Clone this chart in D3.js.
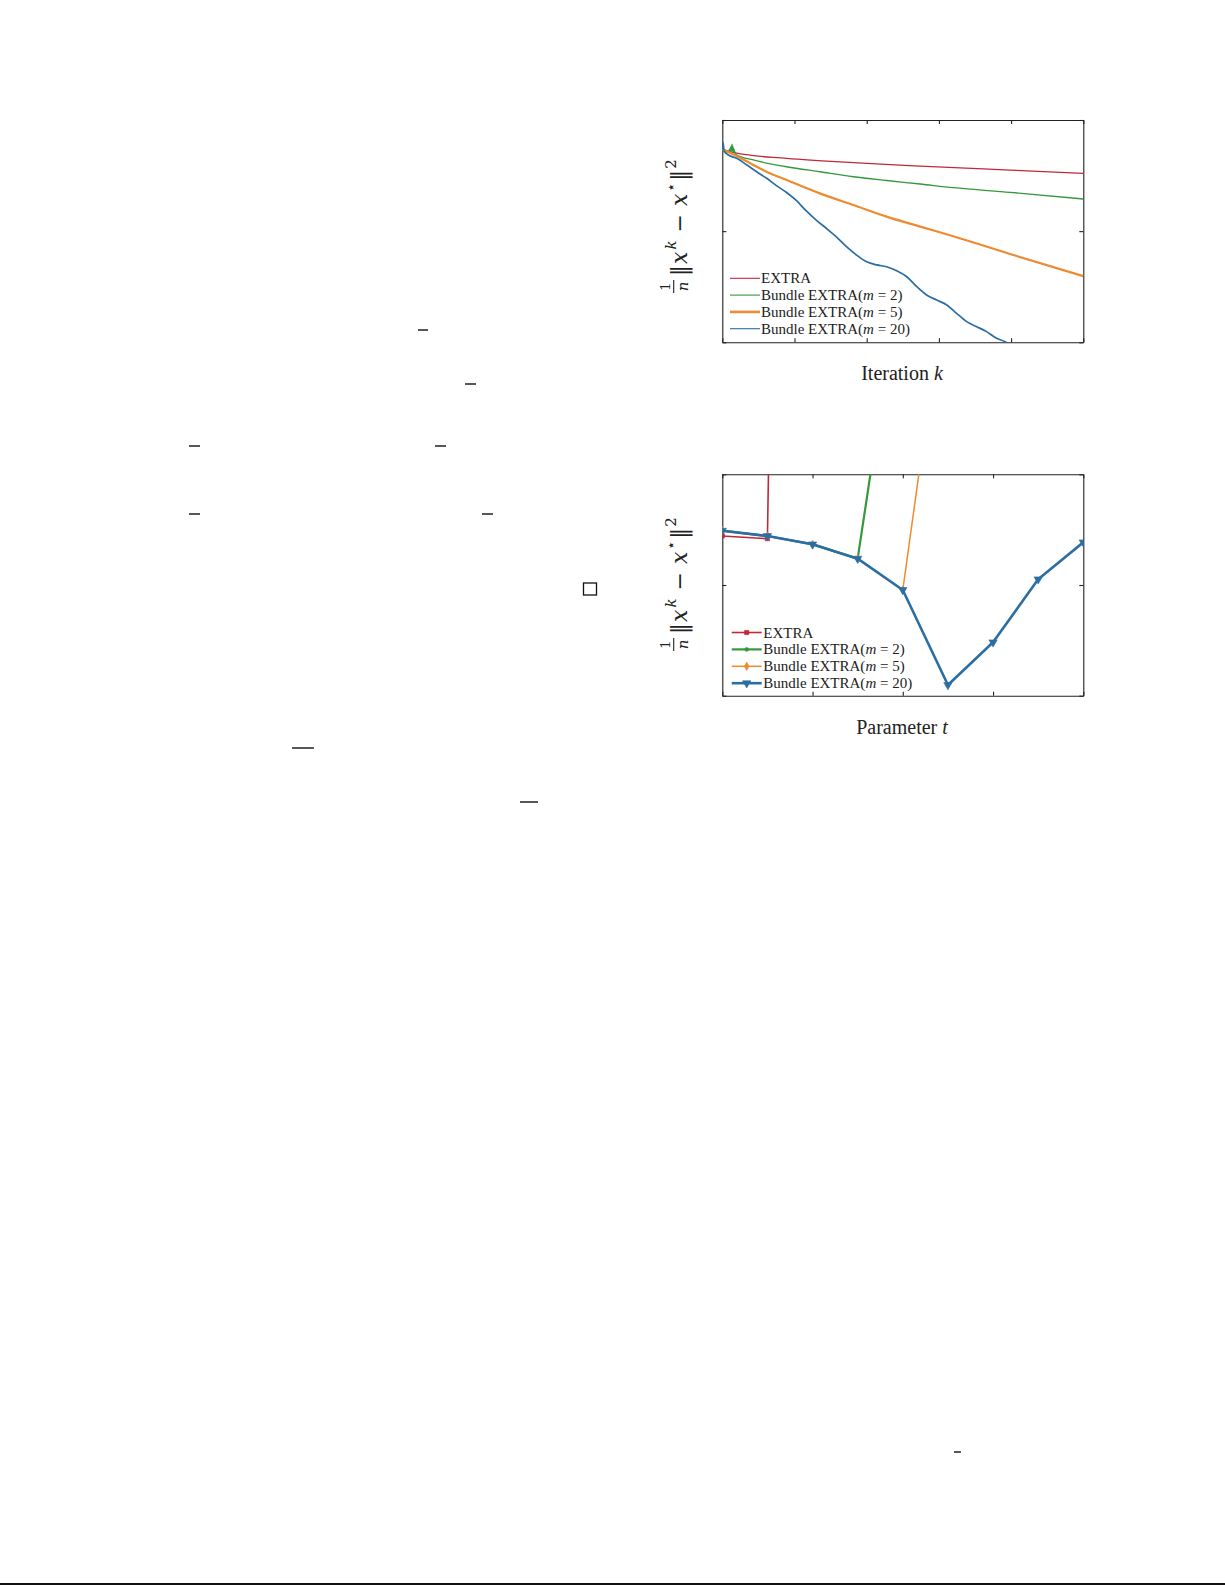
<!DOCTYPE html>
<html>
<head>
<meta charset="utf-8">
<script src="https://d3js.org/d3.v7.min.js"></script>
<style>
  body { margin: 0; background: #fff; }
  svg { display: block; }
</style>
</head>
<body>
<script>
// ---- data: convergence vs iteration (top panel) ----
const iterRed = [0, 40, 178, 363, 548, 797, 1000];
const errRed = [4.8e-2, 3.2e-2, 1.89e-2, 1.2e-2, 8.5e-3, 5.6e-3, 4.0e-3];

const iterGreen = [0, 12, 18, 19, 20, 21, 22, 23, 24, 25, 26, 27, 28, 29, 30, 31, 32, 33, 34, 35, 36, 40,
  86, 178, 270, 363, 455, 548, 640, 797, 1000];
const errGreen = [4.8e-2, 3.9e-2, 4.0e-2, 4.5e-2, 4.0e-2, 5.2e-2, 4.0e-2, 6.0e-2, 4.0e-2, 6.8e-2, 4.0e-2,
  8.1e-2, 4.0e-2, 6.6e-2, 3.8e-2, 5.5e-2, 3.6e-2, 4.6e-2, 3.4e-2, 3.8e-2, 3.1e-2, 2.67e-2,
  1.59e-2, 7.9e-3, 4.7e-3, 2.8e-3, 1.9e-3, 1.32e-3, 9.0e-4, 5.6e-4, 2.8e-4];

const iterOrange = [0, 40, 86, 132, 178, 270, 363, 455, 548, 640, 797, 1000];
const errOrange = [4.8e-2, 2.4e-2, 9.5e-3, 4.0e-3, 2.0e-3, 5.0e-4, 1.5e-4, 4.5e-5, 1.6e-5, 5.9e-6, 9.4e-7, 9.5e-8];

const iterBlue = [0, 2, 5, 17, 40, 68, 95, 123, 150, 178, 205, 232, 260, 288, 316, 344, 372, 400,
  428, 455, 483, 511, 539, 566, 594, 622, 649, 677, 705, 732, 760, 783, 800, 820];
const errBlue = [4.81e-2, 9.73e-2, 4.03e-2, 2.67e-2, 1.89e-2, 9.46e-3, 4.73e-3, 2.38e-3, 1.12e-3, 5.5e-4,
  2.4e-4, 8.32e-5, 3.16e-5, 1.35e-5, 5.5e-6, 2.0e-6, 8.32e-7, 4.17e-7, 3.02e-7, 2.51e-7, 1.66e-7,
  8.91e-8, 3.16e-8, 1.35e-8, 7.94e-9, 4.79e-9, 2.0e-9, 8.51e-10, 5.01e-10, 3.02e-10, 1.51e-10,
  1.07e-10, 7.24e-11, 3.98e-11];

// ---- data: error vs parameter t (bottom panel) ----
const tParam = [0.1, 0.2, 0.3, 0.4, 0.5, 0.6, 0.7, 0.8, 0.9];
const tRed = [0.0768, 0.0687, 1e50];
const tGreen = [0.0957, 0.0768, 0.0543, 0.0299, 7.5e3];
const tOrange = [0.0957, 0.0768, 0.0543, 0.0299, 0.00812, 6.2e3];
const tBlue = [0.0957, 0.0768, 0.0543, 0.0299, 0.00812, 0.000156, 0.000922, 0.01268, 0.0591];

const seriesNames = ["EXTRA", "Bundle EXTRA(m = 2)", "Bundle EXTRA(m = 5)", "Bundle EXTRA(m = 20)"];
const colors = ["#c0283a", "#36983c", "#ee8a30", "#2b6ea3"];

const serif = "'Liberation Serif', 'DejaVu Serif', serif";
const mathFont = "'DejaVu Serif', serif";
const W = 1225, H = 1585;

const svg = d3.select("body").append("svg")
  .attr("width", W).attr("height", H)
  .attr("font-family", serif);

function frame(box, x, y, xt, yt, id) {
  const ax = [
    [d3.axisBottom(x).tickValues(xt), `translate(0,${box.bottom})`],
    [d3.axisTop(x).tickValues(xt), `translate(0,${box.top})`],
    [d3.axisLeft(y).tickValues(yt), `translate(${box.left},0)`],
    [d3.axisRight(y).tickValues(yt), `translate(${box.right},0)`]
  ];
  ax.forEach(([a, tr]) => {
    const g = svg.append("g").attr("transform", tr)
      .call(a.tickSizeInner(-4).tickSizeOuter(0).tickFormat(() => ""));
    g.selectAll("path, line").attr("stroke", "#222").attr("stroke-width", 1.1);
  });
  svg.append("clipPath").attr("id", id).append("rect")
    .attr("x", box.left).attr("y", box.top)
    .attr("width", box.right - box.left).attr("height", box.bottom - box.top);
}

// rotated math label: 1/n ||x^k - x*||^2
function yLabel(bx, by) {
  const g = svg.append("g").attr("transform", `translate(${bx},${by}) rotate(-90)`)
    .attr("fill", "#222").attr("font-family", mathFont);
  g.append("text").attr("x", 6.5).attr("y", -17).attr("text-anchor", "middle").attr("font-size", 13).text("1");
  g.append("line").attr("x1", 0).attr("x2", 13).attr("y1", -13).attr("y2", -13)
    .attr("stroke", "#222").attr("stroke-width", 1.1);
  g.append("text").attr("x", 6.5).attr("y", 1).attr("text-anchor", "middle")
    .attr("font-size", 15).attr("font-style", "italic").text("n");
  const t = g.append("text").attr("x", 17).attr("y", 0).attr("font-size", 22);
  t.append("tspan").text("‖");
  t.append("tspan").attr("dx", 1).attr("font-style", "italic").text("x");
  t.append("tspan").attr("dx", 2).attr("font-style", "italic").attr("font-size", 15).attr("dy", -11).text("k");
  t.append("tspan").attr("dx", 8).attr("dy", 11).text("−");
  t.append("tspan").attr("dx", 8).attr("font-style", "italic").text("x");
  t.append("tspan").attr("dx", 2).attr("font-size", 15).attr("dy", -11).text("⋆");
  t.append("tspan").attr("dx", 2).attr("dy", 11).text("‖");
  t.append("tspan").attr("dx", 1).attr("font-size", 15).attr("dy", -11).text("2");
}

function xLabel(cx, by, word, sym) {
  const t = svg.append("text").attr("x", cx).attr("y", by).attr("text-anchor", "middle")
    .attr("font-size", 20).attr("fill", "#222");
  t.append("tspan").text(word + " ");
  t.append("tspan").attr("font-style", "italic").text(sym);
}

function legendText(x, y, i) {
  const t = svg.append("text").attr("x", x).attr("y", y + 5).attr("font-size", 15).attr("fill", "#222");
  if (i === 0) { t.text("EXTRA"); return; }
  const m = seriesNames[i].match(/\(m = (\d+)\)/)[1];
  t.append("tspan").text("Bundle EXTRA(");
  t.append("tspan").attr("font-style", "italic").text("m");
  t.append("tspan").text(" = " + m + ")");
}

// ---------------- top panel ----------------
const box1 = { left: 722.3, right: 1083.3, top: 120, bottom: 342.3 };
const x1 = d3.scaleLinear().domain([0, 1000]).range([box1.left, box1.right]);
const y1 = d3.scaleLog().domain([1e-10, 1]).range([box1.bottom, box1.top]);
frame(box1, x1, y1, [0, 200, 400, 600, 800, 1000], [1e-10, 1e-5, 1], "clip1");

const topSeries = [
  [iterRed, errRed, 1.3],
  [iterGreen, errGreen, 1.3],
  [iterOrange, errOrange, 2.2],
  [iterBlue, errBlue, 1.7]
];
const line1 = d3.line().x(d => x1(d[0])).y(d => y1(d[1])).curve(d3.curveMonotoneX);
const plot1 = svg.append("g").attr("clip-path", "url(#clip1)");
topSeries.forEach(([k, e, w], i) => {
  plot1.append("path").datum(k.map((v, j) => [v, e[j]]))
    .attr("d", line1).attr("fill", "none")
    .attr("stroke", colors[i]).attr("stroke-width", w).attr("stroke-linejoin", "round");
});

const leg1W = [1.1, 1.1, 2.6, 1.1];
seriesNames.forEach((n, i) => {
  const ly = 278.3 + i * 16.8;
  svg.append("line").attr("x1", 730).attr("x2", 760).attr("y1", ly).attr("y2", ly)
    .attr("stroke", colors[i]).attr("stroke-width", leg1W[i]);
  legendText(761, ly, i);
});

yLabel(686.7, 293);
xLabel(902, 380, "Iteration", "k");

// ---------------- bottom panel ----------------
const box2 = { left: 722.3, right: 1083.3, top: 474.3, bottom: 695.7 };
const x2 = d3.scaleLinear().domain([0.1, 0.9]).range([box2.left, box2.right]);
const y2 = d3.scaleLog().domain([1e-4, 1]).range([box2.bottom, box2.top]);
frame(box2, x2, y2, [0.1, 0.3, 0.5, 0.7, 0.9], [1e-4, 1e-2, 1], "clip2");

const symbols = [
  d3.symbol().type(d3.symbolSquare).size(18),
  d3.symbol().type(d3.symbolCircle).size(12),
  d3.symbol().type(d3.symbolDiamond).size(20),
  d3.symbol().type(d3.symbolTriangle).size(30)
];
const symRot = [0, 0, 0, 180];
const bottomSeries = [[tRed, 1.6], [tGreen, 2.2], [tOrange, 1.5], [tBlue, 2.6]];
const line2 = d3.line().x(d => x2(d[0])).y(d => y2(d[1]));
const plot2 = svg.append("g").attr("clip-path", "url(#clip2)");
bottomSeries.forEach(([vals, w], i) => {
  const pts = vals.map((v, j) => [tParam[j], v]);
  plot2.append("path").datum(pts).attr("d", line2).attr("fill", "none")
    .attr("stroke", colors[i]).attr("stroke-width", w).attr("stroke-linejoin", "round");
  plot2.selectAll(null).data(pts).join("path")
    .attr("d", symbols[i])
    .attr("transform", d => `translate(${x2(d[0])},${y2(d[1])}) rotate(${symRot[i]})`)
    .attr("fill", colors[i]).attr("stroke", colors[i]).attr("stroke-width", 0.6);
});

seriesNames.forEach((n, i) => {
  const ly = 632.5 + i * 16.9;
  svg.append("line").attr("x1", 731.7).attr("x2", 761.7).attr("y1", ly).attr("y2", ly)
    .attr("stroke", colors[i]).attr("stroke-width", bottomSeries[i][1]);
  svg.append("path").attr("d", symbols[i])
    .attr("transform", `translate(746.7,${ly}) rotate(${symRot[i]})`)
    .attr("fill", colors[i]).attr("stroke", colors[i]).attr("stroke-width", 0.6);
  legendText(763.3, ly, i);
});

yLabel(686.7, 651);
xLabel(902, 734.3, "Parameter", "t");

// ---------------- page remnants (fraction bars, end-of-proof box, rule) ----------------
const pg = svg.append("g").attr("stroke", "#111");
[[418, 428, 330], [465, 476, 384], [189, 200, 446], [435, 446, 446], [189, 200, 514],
 [482, 493, 514], [292, 314, 748], [520, 538, 802], [954, 961, 1452]].forEach(([a, b, y]) => {
  pg.append("line").attr("x1", a).attr("x2", b).attr("y1", y).attr("y2", y).attr("stroke-width", 1.4);
});
pg.append("rect").attr("x", 583.5).attr("y", 583).attr("width", 13).attr("height", 12)
  .attr("fill", "none").attr("stroke-width", 1.3);
pg.append("line").attr("x1", 0).attr("x2", 1225).attr("y1", 1584).attr("y2", 1584).attr("stroke-width", 2);
</script>
</body>
</html>
